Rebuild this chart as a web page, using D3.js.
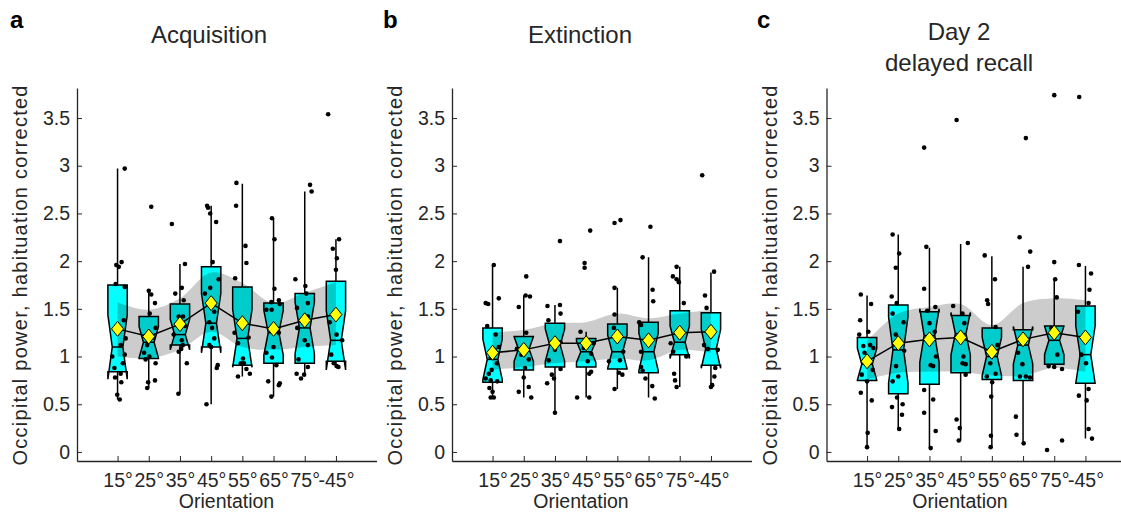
<!DOCTYPE html>
<html>
<head>
<meta charset="utf-8">
<script src="https://cdn.jsdelivr.net/npm/d3@7"></script>
<style>
  body { margin: 0; background: #fff; }
  text { font-family: "Liberation Sans", Arial, sans-serif; fill: #262626; }
</style>
</head>
<body>
<div id="chart"></div>
<script>
// Categories and ticks
var orientations = ["15°", "25°", "35°", "45°", "55°", "65°", "75°", "-45°"];
var yTicks = [0, 0.5, 1, 1.5, 2, 2.5, 3, 3.5];

// a: Acquisition
var acqQ1 = [0.84, 0.98, 1.12, 1.10, 0.91, 0.93, 0.93, 0.95];
var acqMedian = [1.10, 1.15, 1.23, 1.35, 1.19, 1.25, 1.30, 1.17];
var acqQ3 = [1.75, 1.42, 1.55, 1.94, 1.73, 1.56, 1.66, 1.79];
var acqWhiskerLo = [0.55, 0.67, 0.61, 0.50, 0.79, 0.58, 0.81, 0.89];
var acqWhiskerHi = [2.97, 1.70, 1.97, 2.58, 2.81, 2.45, 2.73, 2.23];
var acqMean = [1.29, 1.21, 1.34, 1.56, 1.35, 1.29, 1.38, 1.44];
var acqBandLo = [1.00, 0.98, 1.07, 1.26, 1.10, 1.07, 1.10, 1.12];
var acqBandHi = [1.57, 1.49, 1.61, 1.88, 1.77, 1.56, 1.67, 1.78];
var acqPoints = [
    [[0.23,2.97],[-0.04,1.96],[0.04,1.94],[0.13,1.99],[-0.06,1.76],[0.23,1.73],[0.2,1.38],[0.26,1.19],[0.1,1.12],[-0.17,1.0],[0.23,1.02],[0.17,0.93],[-0.1,0.88],[-0.08,0.78],[0.1,0.82],[0.12,0.73],[-0.01,0.60],[0.07,0.55]],
    [[0.08,2.57],[0,1.69],[0.08,1.65],[0.2,1.56],[0.03,1.45],[0.22,1.30],[-0.05,1.12],[-0.15,1.04],[0.02,1.0],[-0.1,0.97],[0.22,0.93],[-0.02,0.73],[0.2,0.75],[-0.05,0.67],[0.15,1.20]],
    [[0.16,1.97],[-0.15,1.66],[0.06,1.72],[0.12,1.59],[-0.26,2.39],[-0.04,1.42],[0.1,1.42],[0.16,1.32],[-0.2,1.23],[0.06,1.17],[0.09,1.12],[-0.04,1.05],[0.04,1.08],[0.22,0.93],[-0.05,0.61]],
    [[-0.13,2.58],[-0.1,2.56],[-0.03,2.5],[0.16,2.41],[0.05,1.99],[0.24,1.81],[-0.2,1.66],[-0.03,1.72],[0.1,1.47],[-0.06,1.36],[0.03,1.30],[0.1,1.19],[-0.06,1.12],[0,1.10],[0.21,0.91],[0.18,0.88],[-0.15,0.50]],
    [[-0.19,2.82],[-0.2,2.58],[0.1,2.16],[0.13,1.98],[-0.23,1.82],[-0.25,1.25],[0.2,1.2],[-0.14,1.14],[0.05,0.93],[-0.05,0.93],[-0.14,0.79],[0.13,0.87],[0.24,0.82],[0.02,0.98]],
    [[-0.05,2.45],[0.03,2.23],[0.03,1.71],[-0.07,1.57],[0.17,1.59],[0.2,1.55],[-0.23,1.49],[-0.06,1.49],[0.17,1.25],[0,1.10],[-0.23,1.04],[-0.05,0.99],[0.09,0.91],[-0.17,0.74],[0.17,0.70],[0.2,0.72],[-0.07,0.58]],
    [[0.17,2.80],[0.22,2.73],[-0.3,1.81],[0.02,1.74],[0.05,1.66],[0.1,1.56],[-0.25,1.51],[0.1,1.42],[-0.24,1.30],[0,1.17],[0.1,1.12],[-0.2,0.97],[-0.26,0.82],[-0.12,0.77],[-0.02,0.81],[0.1,0.89]],
    [[-0.25,3.54],[0.1,2.23],[-0.1,2.13],[0.03,2.03],[0,1.91],[-0.2,1.36],[0.02,1.23],[-0.15,1.02],[0.2,1.17],[-0.07,0.93],[0.02,0.90],[0.08,0.89]]
];

// b: Extinction
var extQ1 = [0.73, 0.86, 0.89, 0.89, 0.87, 0.83, 1.02, 0.91];
var extMedian = [0.97, 1.08, 1.12, 1.05, 1.05, 1.05, 1.15, 1.08];
var extQ3 = [1.30, 1.21, 1.35, 1.19, 1.34, 1.36, 1.48, 1.46];
var extWhiskerLo = [0.57, 0.57, 0.41, 0.57, 0.66, 0.57, 0.68, 0.66];
var extWhiskerHi = [1.96, 1.64, 1.54, 1.26, 1.72, 2.04, 1.94, 1.88];
var extMean = [1.04, 1.07, 1.14, 1.14, 1.21, 1.17, 1.25, 1.26];
var extBandLo = [0.86, 0.89, 0.93, 0.95, 0.98, 0.96, 1.07, 1.04];
var extBandHi = [1.25, 1.28, 1.35, 1.36, 1.45, 1.40, 1.45, 1.49];
var extPoints = [
    [[0.04,1.96],[0.2,1.61],[-0.22,1.56],[-0.14,1.55],[-0.17,1.32],[0.1,1.23],[0.07,1.07],[0.2,1.1],[-0.06,0.99],[0.14,0.93],[-0.03,0.86],[-0.12,0.82],[-0.22,0.77],[-0.06,0.75],[0.15,0.74],[-0.1,0.67],[0,0.63],[-0.06,0.57],[0.04,0.57]],
    [[0.08,1.84],[0.06,1.64],[0.2,1.63],[-0.16,1.52],[0.08,1.25],[-0.22,1.08],[-0.08,1.02],[0.16,0.97],[0.04,0.88],[0,0.78],[0.16,0.68],[-0.16,0.63],[0.24,0.57]],
    [[0.16,2.21],[-0.24,1.53],[0.16,1.54],[0.18,1.45],[-0.21,1.38],[0.18,1.15],[-0.2,0.96],[0,1.07],[0.18,0.87],[-0.1,0.81],[-0.03,0.77],[-0.25,0.72],[0,0.41]],
    [[0.13,2.32],[-0.05,1.98],[-0.05,1.93],[-0.18,1.26],[0.24,1.14],[-0.08,1.09],[0.16,1.03],[0.05,0.95],[0.16,0.84],[0.1,0.82],[-0.29,0.57],[0.1,0.57]],
    [[-0.09,2.40],[0.1,2.43],[-0.09,1.72],[-0.09,1.44],[-0.11,1.30],[0.19,1.05],[-0.27,0.95],[0.08,0.96],[0.05,0.83],[0.16,0.81],[-0.09,0.66]],
    [[0.06,2.36],[-0.19,2.04],[0.13,1.70],[0.15,1.58],[-0.3,1.36],[-0.24,1.33],[-0.24,1.05],[-0.24,0.89],[-0.19,0.85],[-0.1,0.77],[0.12,0.69],[0.2,0.56]],
    [[-0.1,1.94],[-0.22,1.84],[-0.1,1.81],[-0.03,1.78],[0.13,1.56],[-0.29,1.14],[-0.21,1.05],[0.21,1.0],[-0.18,0.82],[-0.15,0.75],[-0.1,0.68]],
    [[-0.28,2.90],[0.1,1.89],[-0.19,1.64],[-0.14,1.51],[-0.22,1.12],[-0.1,1.08],[0.22,1.07],[0.14,0.88],[0.11,0.79],[0.04,0.70],[0,0.68]]
];

// c: Day 2 delayed recall
var recQ1 = [0.75, 0.61, 0.71, 0.83, 0.76, 0.75, 0.92, 0.72];
var recMedian = [0.92, 1.07, 1.22, 1.24, 1.00, 1.12, 1.17, 1.02];
var recQ3 = [1.20, 1.54, 1.47, 1.43, 1.30, 1.28, 1.32, 1.53];
var recWhiskerLo = [0.05, 0.24, 0.04, 0.12, 0.04, 0.09, 0.89, 0.14];
var recWhiskerHi = [1.64, 2.28, 2.14, 2.18, 2.05, 1.94, 1.81, 1.95];
var recMean = [0.95, 1.14, 1.18, 1.20, 1.05, 1.18, 1.25, 1.20];
var recBandLo = [0.76, 0.83, 0.84, 0.84, 0.80, 0.80, 0.88, 0.84];
var recBandHi = [1.16, 1.45, 1.52, 1.55, 1.33, 1.56, 1.61, 1.59];
var recPoints = [
    [[-0.2,1.65],[0.13,1.55],[-0.22,1.38],[0.04,1.26],[-0.25,1.23],[-0.12,1.11],[0.1,1.12],[0.2,1.09],[-0.08,1.04],[0.18,0.86],[-0.17,0.81],[0,0.74],[-0.2,0.62],[0.15,0.54],[0.02,0.20],[0,0.05]],
    [[-0.18,2.28],[0.03,2.08],[-0.08,1.93],[-0.21,1.63],[-0.05,1.56],[-0.18,1.45],[0.17,1.36],[-0.08,1.23],[0.19,1.06],[-0.07,0.90],[0,0.79],[-0.18,0.74],[-0.04,0.57],[0.14,0.50],[0.12,0.39],[-0.2,0.47],[0.03,0.24]],
    [[-0.17,3.19],[-0.1,2.15],[-0.17,1.71],[0.19,1.52],[-0.07,1.48],[0,1.35],[0.17,1.26],[0.21,1.0],[0.04,0.91],[0.12,0.90],[-0.17,0.65],[0.12,0.55],[-0.17,0.41],[0.2,0.22],[0.04,0.04]],
    [[-0.13,3.48],[0.23,2.19],[-0.24,1.53],[0.06,1.45],[0.12,1.35],[0.09,1.0],[0.06,0.93],[0.16,0.92],[0.16,0.81],[-0.13,0.34],[-0.03,0.25],[-0.06,0.12]],
    [[-0.23,2.06],[-0.15,1.59],[-0.12,1.55],[0.1,1.81],[0.12,1.31],[0.18,1.12],[-0.05,0.93],[0.12,0.82],[-0.16,0.79],[0.01,0.73],[-0.02,0.58],[-0.03,0.17],[-0.04,0.05]],
    [[0.09,3.29],[-0.11,2.25],[0.23,2.10],[0.16,1.94],[-0.16,1.04],[-0.02,0.92],[-0.1,0.79],[0.09,0.79],[0.22,0.78],[-0.23,0.37],[-0.21,0.18],[0.02,0.09]],
    [[0,3.74],[0,1.99],[0.03,1.81],[0.08,1.62],[-0.18,0.90],[0,0.89],[0.25,0.87],[0.1,1.02],[-0.1,1.30],[-0.23,0.02],[0.25,0.12]],
    [[-0.2,3.72],[-0.21,1.96],[0.18,1.87],[0.13,1.70],[0.1,1.56],[-0.24,1.47],[-0.13,1.02],[0.02,0.93],[0.1,0.66],[-0.21,0.59],[0.04,0.54],[0.1,0.24],[0.21,0.14]]
];

var svgWidth = 1121;
var svgHeight = 516;

var axisTop = 88;
var axisBottom = 461;
var axisWidth = 299.5;
var boxHalf = 0.31;     // in category units
var notchRatio = 0.55;  // narrow part of notch relative to box width
var nSubjects = 18;
var axisColor = "#262626";
var tickFont = "19.5px";

var svg = d3.select("#chart")
    .append("svg")
    .attr("width", svgWidth)
    .attr("height", svgHeight);

var panels = [
    {letter: "a", letterX: 10, left: 77, title: ["Acquisition"], titleX: 209, titleY: [43], labelX: 226.5,
     q1: acqQ1, med: acqMedian, q3: acqQ3, lo: acqWhiskerLo, hi: acqWhiskerHi,
     mean: acqMean, bandLo: acqBandLo, bandHi: acqBandHi, points: acqPoints},
    {letter: "b", letterX: 383, left: 452, title: ["Extinction"], titleX: 580, titleY: [43], labelX: 581,
     q1: extQ1, med: extMedian, q3: extQ3, lo: extWhiskerLo, hi: extWhiskerHi,
     mean: extMean, bandLo: extBandLo, bandHi: extBandHi, points: extPoints},
    {letter: "c", letterX: 757, left: 826.5, title: ["Day 2", "delayed recall"], titleX: 959, titleY: [40, 71], labelX: 960,
     q1: recQ1, med: recMedian, q3: recQ3, lo: recWhiskerLo, hi: recWhiskerHi,
     mean: recMean, bandLo: recBandLo, bandHi: recBandHi, points: recPoints}
];

panels.forEach(drawPanel);

function drawPanel(p) {
    var idx = d3.range(orientations.length);

    var x = d3.scaleLinear()
        .domain([-0.3, 9.3])
        .range([p.left, p.left + axisWidth]);

    var y = d3.scaleLinear()
        .domain([-0.095, 3.815])
        .range([axisBottom, axisTop]);

    var g = svg.append("g");

    // whiskers
    g.selectAll(".whisker")
        .data(idx)
        .enter()
        .append("path")
        .attr("d", i => `M${x(i + 1)},${y(p.hi[i])}V${y(p.q3[i])}M${x(i + 1)},${y(p.q1[i])}V${y(p.lo[i])}`)
        .attr("stroke", "#000")
        .attr("stroke-width", 1.5)
        .attr("fill", "none");

    // notched box outline
    function boxPath(i) {
        var iqr = p.q3[i] - p.q1[i];
        var notch = 1.57 * iqr / Math.sqrt(nSubjects);
        var c = i + 1;
        var pts = [
            [c - boxHalf, p.q1[i]],
            [c - boxHalf, p.med[i] - notch],
            [c - boxHalf * notchRatio, p.med[i]],
            [c - boxHalf, p.med[i] + notch],
            [c - boxHalf, p.q3[i]],
            [c + boxHalf, p.q3[i]],
            [c + boxHalf, p.med[i] + notch],
            [c + boxHalf * notchRatio, p.med[i]],
            [c + boxHalf, p.med[i] - notch],
            [c + boxHalf, p.q1[i]]
        ];
        return "M" + pts.map(d => `${x(d[0])},${y(d[1])}`).join("L") + "Z";
    }

    g.selectAll(".boxFill")
        .data(idx)
        .enter()
        .append("path")
        .attr("d", boxPath)
        .attr("fill", "#00ffff")
        .attr("stroke", "none");

    // shaded band around the mean
    var band = d3.area()
        .x(i => x(i + 1))
        .y0(i => y(p.bandLo[i]))
        .y1(i => y(p.bandHi[i]))
        .curve(d3.curveCatmullRom.alpha(0.5));

    g.append("path")
        .datum(idx)
        .attr("d", band)
        .attr("fill", "#000")
        .attr("fill-opacity", 0.2);

    g.selectAll(".boxLine")
        .data(idx)
        .enter()
        .append("path")
        .attr("d", boxPath)
        .attr("fill", "none")
        .attr("stroke", "#000")
        .attr("stroke-width", 1.5)
        .attr("stroke-linejoin", "miter");

    // median lines
    g.selectAll(".median")
        .data(idx)
        .enter()
        .append("line")
        .attr("x1", i => x(i + 1 - boxHalf * notchRatio))
        .attr("x2", i => x(i + 1 + boxHalf * notchRatio))
        .attr("y1", i => y(p.med[i]))
        .attr("y2", i => y(p.med[i]))
        .attr("stroke", "#000")
        .attr("stroke-width", 1.5);

    // individual subjects
    idx.forEach(i => {
        g.selectAll(null)
            .data(p.points[i])
            .enter()
            .append("circle")
            .attr("cx", d => x(i + 1 + d[0]))
            .attr("cy", d => y(d[1]))
            .attr("r", 2.3)
            .attr("fill", "#000");
    });

    // mean line and diamonds
    var meanLine = d3.line()
        .x(i => x(i + 1))
        .y(i => y(p.mean[i]));

    g.append("path")
        .datum(idx)
        .attr("d", meanLine)
        .attr("fill", "none")
        .attr("stroke", "#000")
        .attr("stroke-width", 1.5);

    g.selectAll(".diamond")
        .data(idx)
        .enter()
        .append("path")
        .attr("d", i => {
            var cx = x(i + 1), cy = y(p.mean[i]);
            return `M${cx},${cy - 7.5}L${cx + 6},${cy}L${cx},${cy + 7.5}L${cx - 6},${cy}Z`;
        })
        .attr("fill", "#ffff00")
        .attr("stroke", "#000")
        .attr("stroke-width", 1);

    // axes
    var xAxis = g.append("g")
        .attr("transform", `translate(0, ${axisBottom})`)
        .call(d3.axisBottom(x)
            .tickValues(d3.range(1, 9))
            .tickFormat(d => orientations[d - 1])
            .tickSizeInner(-5)
            .tickSizeOuter(0)
            .tickPadding(12));

    var yAxis = g.append("g")
        .attr("transform", `translate(${p.left}, 0)`)
        .call(d3.axisLeft(y)
            .tickValues(yTicks)
            .tickFormat(d3.format("~g"))
            .tickSizeInner(-5)
            .tickSizeOuter(0)
            .tickPadding(7));

    [xAxis, yAxis].forEach(a => {
        a.select(".domain").attr("stroke", axisColor).attr("stroke-width", 1.3);
        a.selectAll(".tick line").attr("stroke", axisColor).attr("stroke-width", 1);
        a.selectAll(".tick text")
            .attr("fill", axisColor)
            .style("font-size", tickFont)
            .style("font-family", "Liberation Sans, Arial, sans-serif");
    });

    // axis labels
    g.append("text")
        .attr("x", p.labelX)
        .attr("y", 508)
        .attr("text-anchor", "middle")
        .style("font-size", "19.5px")
        .text("Orientation");

    g.append("text")
        .attr("transform", `translate(${p.left - 50}, ${(axisTop + axisBottom) / 2 + 1}) rotate(-90)`)
        .attr("text-anchor", "middle")
        .attr("textLength", 380)
        .attr("lengthAdjust", "spacing")
        .style("font-size", "20px")
        .text("Occipital power, habituation corrected");

    // title
    p.title.forEach((t, k) => {
        g.append("text")
            .attr("x", p.titleX)
            .attr("y", p.titleY[k])
            .attr("text-anchor", "middle")
            .style("font-size", "24px")
            .text(t);
    });

    // panel letter
    g.append("text")
        .attr("x", p.letterX)
        .attr("y", 28)
        .style("font-size", "24px")
        .style("font-weight", "bold")
        .style("fill", "#000")
        .text(p.letter);
}
</script>
</body>
</html>
